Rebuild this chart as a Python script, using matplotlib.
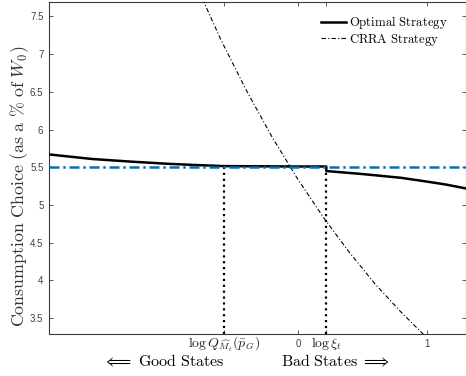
import matplotlib
matplotlib.use("Agg")
import matplotlib.pyplot as plt

# ---- data ----
opt_x = [-1.93, -1.6, -1.3, -1.0, -0.8, -0.57, 0.0, 0.22, 0.22, 0.5, 0.8, 1.0, 1.15, 1.30]
opt_y = [5.67, 5.61, 5.575, 5.545, 5.53, 5.515, 5.51, 5.51, 5.45, 5.41, 5.36, 5.31, 5.27, 5.22]

crra_x = [-0.80, -0.6, -0.4, -0.2, 0.0, 0.2, 0.4, 0.6, 0.8, 1.0, 1.1]
crra_y = [7.96, 7.20, 6.52, 5.90, 5.34, 4.83, 4.37, 3.95, 3.58, 3.24, 3.08]

bench_x = [-1.93, 1.30]
bench_y = [5.5, 5.5]

log_q = -0.57
log_xi = 0.22

xtick_pos = [log_q, 0.0, log_xi, 1.0]
xtick_lab = [r"$\log Q_{\widehat{M}_t}(\bar{p}_G)$", "0", r"$\log \xi_t$", "1"]
ytick_pos = [3.5, 4, 4.5, 5, 5.5, 6, 6.5, 7, 7.5]
ytick_lab = ["3.5", "4", "4.5", "5", "5.5", "6", "6.5", "7", "7.5"]

plt.rcParams['mathtext.fontset'] = 'cm'

fig = plt.figure(figsize=(4.66, 3.76), dpi=100)
ax = fig.add_axes([49/466, 1-334/376, 417/466 - 0.001, 332/376])

ax.plot(opt_x, opt_y, color='black', lw=1.8, label=r"$\mathrm{Optimal\ Strategy}$", zorder=4)
ax.plot(crra_x, crra_y, color='black', lw=0.8, dashes=(4, 2, 1, 2), label=r"$\mathrm{CRRA\ Strategy}$", zorder=3)
ax.plot(bench_x, bench_y, color='#0072BD', lw=1.8, dashes=(4, 1.5, 1, 1.5), zorder=5)

ax.plot([log_q, log_q], [3.29, 5.5], color='black', lw=1.6, ls=':', zorder=2)
ax.plot([log_xi, log_xi], [3.29, 5.5], color='black', lw=1.6, ls=':', zorder=2)

ax.set_xlim(-1.93, 1.30)
ax.set_ylim(3.29, 7.69)

ax.set_yticks(ytick_pos)
ax.set_yticklabels(ytick_lab, fontsize=7, color='#404040', family='Liberation Sans')
ax.set_xticks(xtick_pos)
labs = ax.set_xticklabels(xtick_lab, color='#222222')
ax.tick_params(direction='in', length=3, width=0.6, top=True, right=True, colors='#404040')
ax.tick_params(axis='y', pad=4)
ax.tick_params(axis='x', labelcolor='#222222', pad=1)
for i, t in enumerate(labs):
    if xtick_lab[i] in ("0", "1"):
        t.set_fontsize(7)
        t.set_family('Liberation Sans')
        t.set_color('#404040')
        t.set_y(-0.012)
    else:
        t.set_fontsize(10)
for s in ax.spines.values():
    s.set_color('#3a3a3a')
    s.set_linewidth(0.8)

ax.set_ylabel(r"$\mathrm{Consumption\ Choice\ (as\ a\ \%\ of\ }W_0\mathrm{)}$", fontsize=12.9,
              color='#333333', va='center')
ax.yaxis.set_label_coords((20 - 49) / 417, (334 - 186) / 332)

fig.text(164/466, 1-361/376, r"$\Longleftarrow\mathrm{\ Good\ States}$", fontsize=11.5, ha='center', va='center')
fig.text(336/466, 1-361/376, r"$\mathrm{Bad\ States\ }\Longrightarrow$", fontsize=11.5, ha='center', va='center')

ax.legend(loc='upper right', frameon=False, fontsize=9.2, handlelength=2.0, handletextpad=0.2,
          labelspacing=0.05, bbox_to_anchor=(1 - 13/417, 1 - 7/332), borderaxespad=0)

fig.savefig('out.png', dpi=100)
